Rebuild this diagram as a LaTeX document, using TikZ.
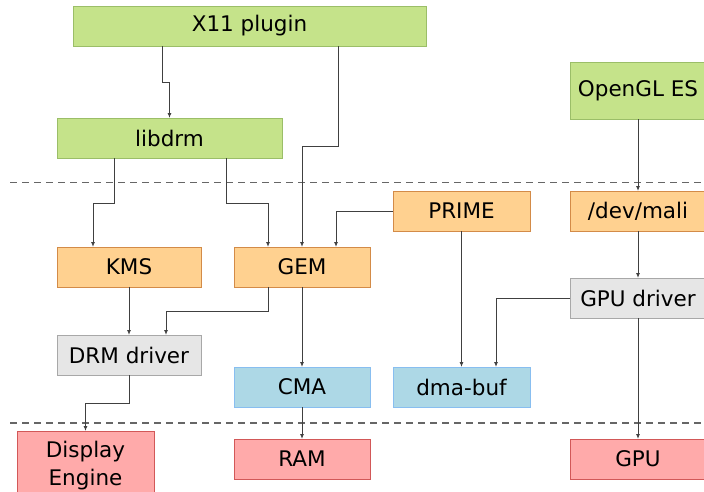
\documentclass[tikz,border=0pt]{standalone}
\usepackage{fontspec}
\setmainfont{DejaVu Sans}
\usetikzlibrary{positioning, calc, arrows.meta}
\definecolor{userfill}{HTML}{C5E38A}
\definecolor{userline}{HTML}{9BBE68}
\definecolor{kernfill}{HTML}{FFD190}
\definecolor{kernline}{HTML}{D38B48}
\definecolor{drvfill}{HTML}{E6E6E6}
\definecolor{drvline}{HTML}{A8A8A8}
\definecolor{memfill}{HTML}{ADD8E6}
\definecolor{memline}{HTML}{88BEF0}
\definecolor{hwfill}{HTML}{FFAAAA}
\definecolor{hwline}{HTML}{D25858}
\definecolor{wire}{HTML}{404040}
\tikzset{
	blk/.style={draw, line width=1pt, minimum width=136pt, minimum height=40pt, inner sep=0pt, outer sep=0pt, align=center, font=\fontsize{21.5}{28}\selectfont},
	user/.style={blk, fill=userfill, draw=userline},
	kern/.style={blk, fill=kernfill, draw=kernline},
	drv/.style={blk, fill=drvfill, draw=drvline},
	mem/.style={blk, fill=memfill, draw=memline},
	hw/.style={blk, fill=hwfill, draw=hwline},
	link/.style={draw=wire, line width=0.9pt, -{Latex[length=5pt,width=4pt]}},
	layer/.style={draw=black!60, line width=1.2pt, dash pattern=on 7pt off 5pt}
}

\begin{document}
\begin{tikzpicture}[x=1pt, y=-1pt]
	\useasboundingbox (0,0) rectangle (704,491);
	
	\node[kern, minimum width=144pt] (kms) at (129,267) {KMS};
	\node[kern, right=33pt of kms] (gem) {GEM};
	\node[drv, minimum width=144pt, below=48pt of kms] (drm) {DRM driver};
	\node[mem, below=80pt of gem] (cma) {CMA};
	\node[mem, minimum width=137pt, right=23pt of cma] (dmabuf) {dma-buf};
	\node[hw, below=32pt of cma] (ram) {RAM};
	\node[kern, minimum width=137pt, above=136pt of dmabuf] (prime) {PRIME};
	\node[kern, right=40pt of prime] (mali) {/dev/mali};
	\node[drv, below=47pt of mali] (gpudrv) {GPU driver};
	\node[hw] (gpu) at (mali |- ram) {GPU};
	\node[user, minimum height=57pt, above=72pt of mali] (ogl) {OpenGL ES};
	\node[user, minimum width=225pt] (libdrm) at (169.5,138) {libdrm};
	\node[user, minimum width=353pt] (x11) at (249.5,26) {X11 plugin};
	\node[hw, minimum width=137pt, minimum height=70pt] (disp) at (85.5,466) {Display\\Engine};
	
	\draw[layer] (10,182.5) -- (704,182.5);
	\draw[layer] (10,423) -- (704,423);
	
	\draw[link] ($(x11.south)+(-87.5,0)$) -- ++(0,36) -| (libdrm.north);
	\draw[link] ($(x11.south)+(88.5,0)$) -- ++(0,100) -| (gem.north);
	\draw[link] ($(libdrm.south)+(-55.5,0)$) -- ++(0,45) -| ($(kms.north)+(-36,0)$);
	\draw[link] ($(libdrm.south)+(56.5,0)$) -- ++(0,45) -| ($(gem.north)+(-34,0)$);
	\draw[link] (prime.west) -| ($(gem.north)+(34,0)$);
	\draw[link] (kms) -- (drm);
	\draw[link] ($(gem.south)+(-34,0)$) -- ++(0,24) -| ($(drm.north)+(37,0)$);
	\draw[link] (gem) -- (cma);
	\draw[link] (drm.south) -- ++(0,28) -| (disp.north);
	\draw[link] (cma) -- (ram);
	\draw[link] (prime) -- (dmabuf);
	\draw[link] (gpudrv.west) -| ($(dmabuf.north)+(34.5,0)$);
	\draw[link] (ogl) -- (mali);
	\draw[link] (mali) -- (gpudrv);
	\draw[link] (gpudrv) -- (gpu);
\end{tikzpicture}
\end{document}
